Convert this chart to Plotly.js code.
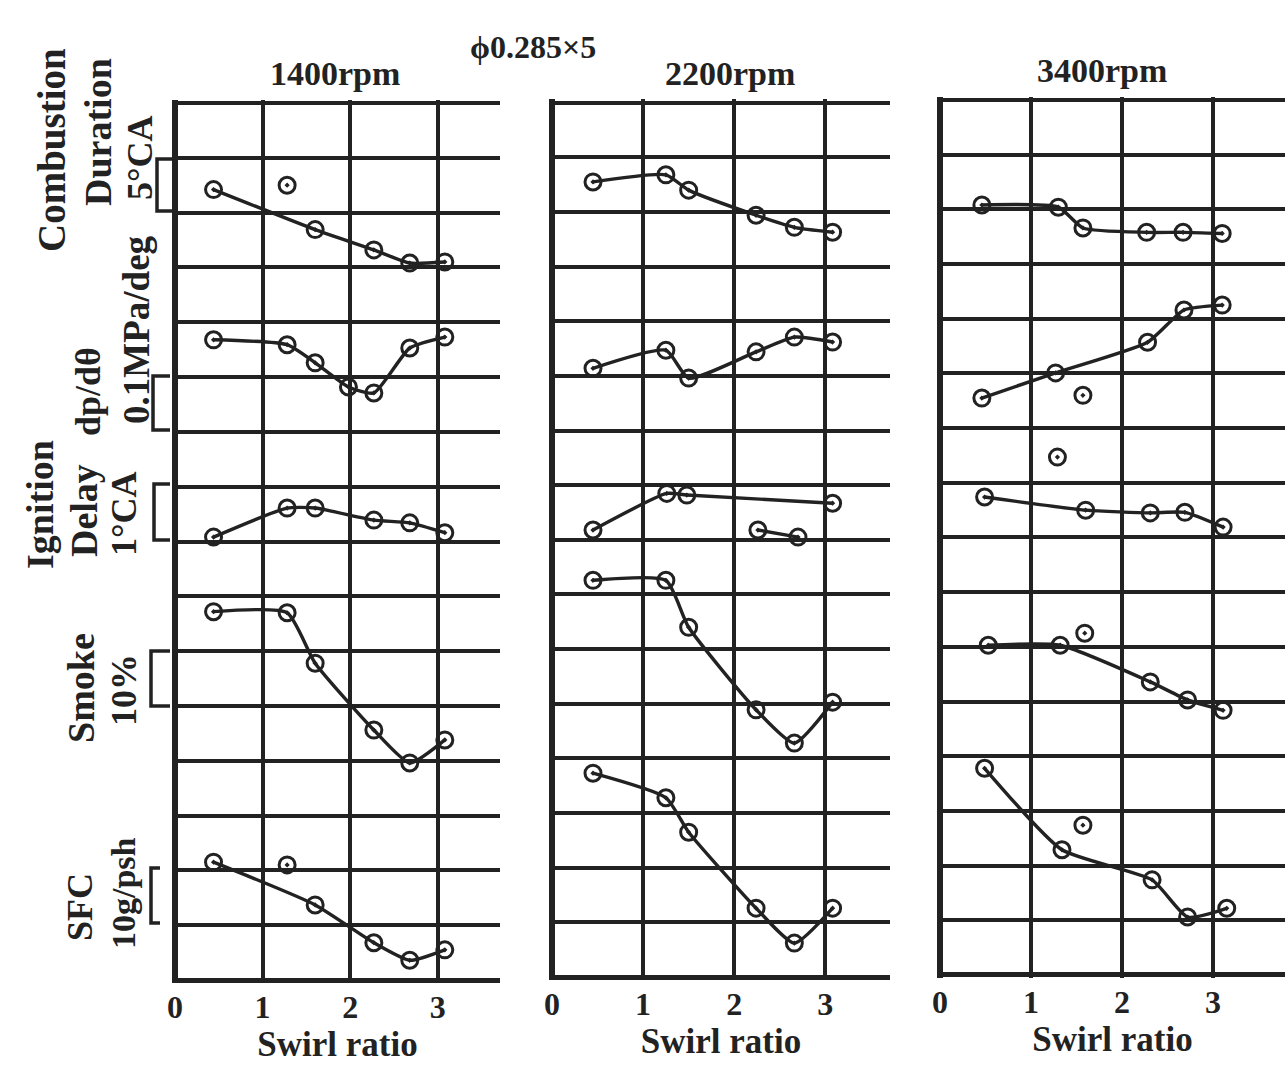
<!DOCTYPE html>
<html>
<head>
<meta charset="utf-8">
<script src="https://cdn.plot.ly/plotly-3.0.1.min.js"></script>
<style>html,body{margin:0;padding:0;background:#fff;}#chart{width:1285px;height:1066px;}</style>
</head>
<body>
<div id="chart"></div>
<script>
// Engine speeds (panel titles) and swirl-ratio axis ticks
const panels = ['1400rpm', '2200rpm', '3400rpm'];
const xTicks = [0, 1, 2, 3];
const xTickText = ['0', '1', '2', '3'];

// Values are in grid-division units (16 divisions per panel, counted from the bottom line)
// ---- 1400 rpm ----
const combX1400 = [0.44, 1.6, 2.27, 2.68, 3.08];
const comb1400 = [14.42, 13.69, 13.32, 13.08, 13.1];
const combXb1400 = [1.28];
const combB1400 = [14.5];
const dpX1400 = [0.44, 1.28, 1.6, 1.98, 2.27, 2.68, 3.08];
const dp1400 = [11.68, 11.59, 11.26, 10.82, 10.71, 11.53, 11.73];
const x1400 = [0.44, 1.28, 1.6, 2.27, 2.68, 3.08];
const ign1400 = [8.08, 8.61, 8.61, 8.39, 8.34, 8.16];
const smoke1400 = [6.72, 6.7, 5.78, 4.56, 3.96, 4.38];
const sfcX1400 = [0.44, 1.6, 2.27, 2.68, 3.08];
const sfc1400 = [2.15, 1.37, 0.68, 0.36, 0.55];
const sfcXb1400 = [1.28];
const sfcB1400 = [2.1];

// ---- 2200 rpm ----
const x2200 = [0.45, 1.25, 1.5, 2.24, 2.66, 3.08];
const comb2200 = [14.55, 14.68, 14.4, 13.94, 13.72, 13.63];
const dp2200 = [11.14, 11.47, 10.96, 11.44, 11.71, 11.62];
const ignX2200 = [0.45, 1.26, 1.48, 3.08];
const ign2200 = [8.18, 8.85, 8.82, 8.67];
const ignXb2200 = [2.26, 2.7];
const ignB2200 = [8.18, 8.05];
const smoke2200 = [7.26, 7.26, 6.4, 4.89, 4.28, 5.03];
const sfc2200 = [3.73, 3.28, 2.65, 1.26, 0.62, 1.26];

// ---- 3400 rpm ----
const x3400 = [0.46, 1.3, 1.57, 2.27, 2.67, 3.1];
const comb3400 = [14.08, 14.04, 13.66, 13.58, 13.58, 13.56];
const dpX3400 = [0.46, 1.27, 2.28, 2.68, 3.1];
const dp3400 = [10.55, 11.01, 11.57, 12.16, 12.25];
const dpXb3400 = [1.57, 1.29];
const dpB3400 = [10.6, 9.47];
const ignX3400 = [0.49, 1.6, 2.31, 2.69, 3.11];
const ign3400 = [8.74, 8.5, 8.45, 8.46, 8.19];
const smokeX3400 = [0.53, 1.32, 2.31, 2.72, 3.11];
const smoke3400 = [6.03, 6.03, 5.36, 5.03, 4.84];
const smokeXb3400 = [1.59];
const smokeB3400 = [6.25];
const sfcX3400 = [0.49, 1.34, 2.33, 2.72, 3.15];
const sfc3400 = [3.78, 2.29, 1.74, 1.06, 1.22];
const sfcXb3400 = [1.57];
const sfcB3400 = [2.74];

const INK = '#222222';
const W = 1285, H = 1066;
const px = v => v / W;
const py = v => 1 - v / H;

const MARKER = {symbol: 'circle-open-dot', size: 16, color: INK, line: {color: INK, width: 3}};

function lineTrace(x, y, ax, name) {
  return {
    x: x, y: y, xaxis: 'x' + ax, yaxis: 'y' + ax, name: name,
    type: 'scatter', mode: 'lines+markers',
    line: {color: INK, width: 3.4, shape: 'spline', smoothing: 0.55},
    marker: MARKER, showlegend: false, cliponaxis: false
  };
}
function pointTrace(x, y, ax, name) {
  return {
    x: x, y: y, xaxis: 'x' + ax, yaxis: 'y' + ax, name: name,
    type: 'scatter', mode: 'markers',
    marker: MARKER, showlegend: false, cliponaxis: false
  };
}
function pairTrace(x, y, ax, name) {
  const t = lineTrace(x, y, ax, name);
  t.line = {color: INK, width: 3.4, shape: 'linear'};
  return t;
}

const data = [
  lineTrace(combX1400, comb1400, '', 'Combustion duration 1400'),
  pointTrace(combXb1400, combB1400, '', 'Combustion duration 1400 (b)'),
  lineTrace(dpX1400, dp1400, '', 'dp/dθ 1400'),
  lineTrace(x1400, ign1400, '', 'Ignition delay 1400'),
  lineTrace(x1400, smoke1400, '', 'Smoke 1400'),
  lineTrace(sfcX1400, sfc1400, '', 'SFC 1400'),
  pointTrace(sfcXb1400, sfcB1400, '', 'SFC 1400 (b)'),

  lineTrace(x2200, comb2200, '2', 'Combustion duration 2200'),
  lineTrace(x2200, dp2200, '2', 'dp/dθ 2200'),
  lineTrace(ignX2200, ign2200, '2', 'Ignition delay 2200'),
  pairTrace(ignXb2200, ignB2200, '2', 'Ignition delay 2200 (b)'),
  lineTrace(x2200, smoke2200, '2', 'Smoke 2200'),
  lineTrace(x2200, sfc2200, '2', 'SFC 2200'),

  lineTrace(x3400, comb3400, '3', 'Combustion duration 3400'),
  lineTrace(dpX3400, dp3400, '3', 'dp/dθ 3400'),
  pointTrace(dpXb3400, dpB3400, '3', 'dp/dθ 3400 (b)'),
  lineTrace(ignX3400, ign3400, '3', 'Ignition delay 3400'),
  lineTrace(smokeX3400, smoke3400, '3', 'Smoke 3400'),
  pointTrace(smokeXb3400, smokeB3400, '3', 'Smoke 3400 (b)'),
  lineTrace(sfcX3400, sfc3400, '3', 'SFC 3400'),
  pointTrace(sfcXb3400, sfcB3400, '3', 'SFC 3400 (b)')
];

const FONT = 'Liberation Serif, DejaVu Serif, serif';
const PAD = 0.06; // small padding so the top grid line is drawn

function xAxis(domain, maxX, anchor) {
  return {
    domain: domain, range: [0, maxX], anchor: anchor,
    tickmode: 'array', tickvals: xTicks, ticktext: xTickText,
    showgrid: true, gridcolor: INK, gridwidth: 4,
    zeroline: true, zerolinecolor: INK, zerolinewidth: 6,
    showline: false, ticks: '', ticklabelstandoff: 2,
    tickfont: {family: FONT, size: 32, color: INK, weight: 'bold'},
    title: {text: 'Swirl ratio', font: {family: FONT, size: 35, color: INK, weight: 'bold'}, standoff: 6},
    automargin: false, fixedrange: true
  };
}
function yAxis(bot, top, anchor) {
  const u = (bot - top) / 16;
  return {
    domain: [py(bot + PAD * u), py(top - PAD * u)], range: [-PAD, 16 + PAD], anchor: anchor,
    tickmode: 'linear', tick0: 0, dtick: 1, showticklabels: false, ticks: '',
    showgrid: true, gridcolor: INK, gridwidth: 4,
    zeroline: true, zerolinecolor: INK, zerolinewidth: 5,
    showline: false, automargin: false, fixedrange: true
  };
}

function label(text, x, y, size, angle) {
  return {
    text: text, xref: 'paper', yref: 'paper', x: px(x), y: py(y),
    xanchor: 'center', yanchor: 'middle', showarrow: false,
    textangle: angle || 0,
    font: {family: FONT, size: size, color: INK, weight: 'bold'}
  };
}

const annotations = [
  label(panels[0], 335, 73, 34),
  label(panels[1], 730, 73, 34),
  label(panels[2], 1102, 71, 34),
  label('ϕ0.285×5', 533, 47, 32),
  label('Combustion', 52, 150, 39, -90),
  label('Duration', 98, 132, 38, -90),
  label('5°CA', 140, 158, 36, -90),
  label('0.1MPa/deg', 136, 330, 37, -90),
  label('dp/dθ', 88, 392, 36, -90),
  label('Ignition', 40, 505, 38, -90),
  label('Delay', 84, 511, 38, -90),
  label('1°CA', 124, 514, 36, -90),
  label('Smoke', 81, 688, 38, -90),
  label('10%', 124, 690, 36, -90),
  label('SFC', 80, 907, 36, -90),
  label('10g/psh', 123, 893, 34, -90)
];

function bracket(x0, x1, y0, y1) {
  return {
    type: 'path', xref: 'paper', yref: 'paper',
    path: 'M ' + px(x1) + ' ' + py(y0) + ' L ' + px(x0) + ' ' + py(y0) +
          ' L ' + px(x0) + ' ' + py(y1) + ' L ' + px(x1) + ' ' + py(y1),
    line: {color: INK, width: 3.5}
  };
}
const shapes = [
  bracket(157, 173, 159, 211),
  bracket(153, 170, 376, 430),
  bracket(154, 170, 484, 540),
  bracket(151, 170, 651, 706),
  bracket(151, 160, 868, 923)
];

const layout = {
  width: W, height: H,
  margin: {l: 0, r: 0, t: 0, b: 0, pad: 0},
  paper_bgcolor: '#ffffff', plot_bgcolor: 'rgba(0,0,0,0)',
  showlegend: false,
  font: {family: FONT, color: INK},
  xaxis: xAxis([px(175), px(500)], 3.71, 'y'),
  yaxis: yAxis(980, 103, 'x'),
  xaxis2: xAxis([px(552), px(890)], 3.71, 'y2'),
  yaxis2: yAxis(977, 102.7, 'x2'),
  xaxis3: xAxis([px(940), 1], 3.79, 'y3'),
  yaxis3: yAxis(975, 100, 'x3'),
  annotations: annotations,
  shapes: shapes
};

Plotly.newPlot('chart', data, layout, {displayModeBar: false, staticPlot: true});
</script>
</body>
</html>
